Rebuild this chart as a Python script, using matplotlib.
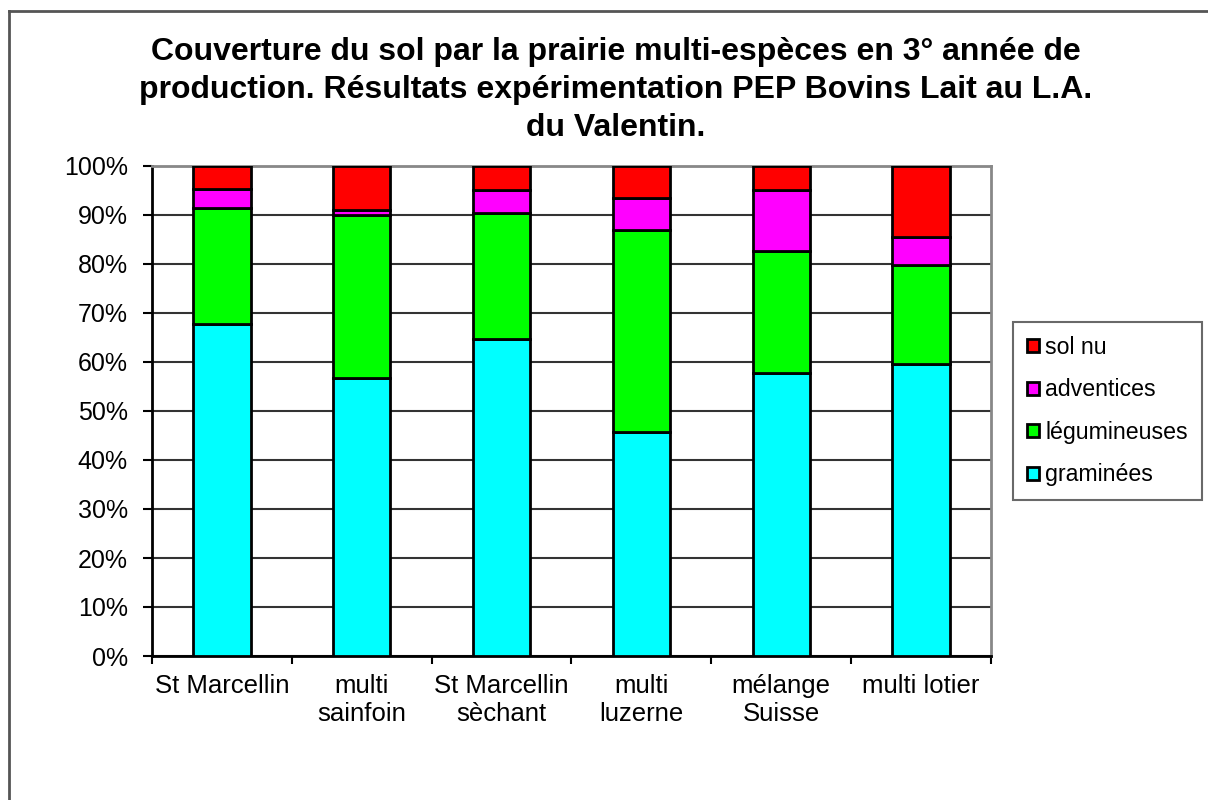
import matplotlib.pyplot as plt
from matplotlib.lines import Line2D
import numpy as np

plt.rcParams['font.family'] = ['Liberation Sans', 'DejaVu Sans']

categories = ["St Marcellin", "multi\nsainfoin", "St Marcellin\nsèchant",
              "multi\nluzerne", "mélange\nSuisse", "multi lotier"]
graminees = [67.8, 56.8, 64.6, 45.8, 57.8, 59.5]
legumineuses = [23.7, 33.2, 25.9, 41.1, 24.9, 20.3]
adventices = [3.9, 1.0, 4.7, 6.5, 12.5, 5.8]
sol_nu = [4.6, 9.0, 4.8, 6.6, 4.8, 14.4]

series = [("graminées", graminees, "#00ffff"),
          ("légumineuses", legumineuses, "#00ff00"),
          ("adventices", adventices, "#ff00ff"),
          ("sol nu", sol_nu, "#ff0000")]

fig = plt.figure(figsize=(12.08, 8), dpi=100)
ax = fig.add_axes([152/1208, 1 - 656/800, (991-152)/1208, (656-166)/800])

x = np.arange(len(categories))
bottom = np.zeros(len(categories))
for name, vals, col in series:
    ax.bar(x, vals, width=0.41, bottom=bottom, color=col, edgecolor="black",
           linewidth=2, label=name, zorder=3)
    bottom += np.array(vals)

ax.set_xlim(-0.5, len(categories) - 0.5)
ax.set_ylim(0, 100)
ax.set_yticks(np.arange(0, 101, 10))
ax.set_yticklabels([f"{v}%" for v in range(0, 101, 10)], fontsize=18)
ax.set_xticks(x)
ax.set_xticklabels(categories, fontsize=18.5, linespacing=1.2)
ax.tick_params(axis='x', length=0, pad=13)
ax.set_xticks(np.arange(-0.5, len(categories)), minor=True)
ax.tick_params(axis='x', which='minor', length=6, width=1.5, direction='out')
ax.tick_params(axis='y', length=6.5, width=1.5, direction='out', pad=11)
ax.yaxis.grid(True, color="#333333", linewidth=1.5, zorder=0)

for s in ["left", "bottom"]:
    ax.spines[s].set_linewidth(2)
    ax.spines[s].set_color("black")
for s in ["top", "right"]:
    ax.spines[s].set_linewidth(2)
    ax.spines[s].set_color("#888888")

fig.suptitle("Couverture du sol par la prairie multi-espèces en 3° année de\n"
             "production. Résultats expérimentation PEP Bovins Lait au L.A.\n"
             "du Valentin.", fontsize=23, fontweight="bold", y=0.954,
             x=0.51, linespacing=1.35)

handles, labels = ax.get_legend_handles_labels()
leg = fig.legend(handles[::-1], labels[::-1], loc="upper left",
                 bbox_to_anchor=(1013/1208, 1 - 322/800), fontsize=16.7,
                 frameon=True, fancybox=False, edgecolor="#444444",
                 handlelength=0.5, handleheight=0.5, handletextpad=0.3,
                 labelspacing=0.84, borderpad=0.6, borderaxespad=0)
leg.get_frame().set_linewidth(1.5)

# outer chart border (top and left edges visible)
fig.add_artist(Line2D([9/1208, 1], [1 - 11/800, 1 - 11/800], color="#555555", lw=2))
fig.add_artist(Line2D([9/1208, 9/1208], [0, 1 - 11/800], color="#555555", lw=2))

plt.savefig("out.png")
